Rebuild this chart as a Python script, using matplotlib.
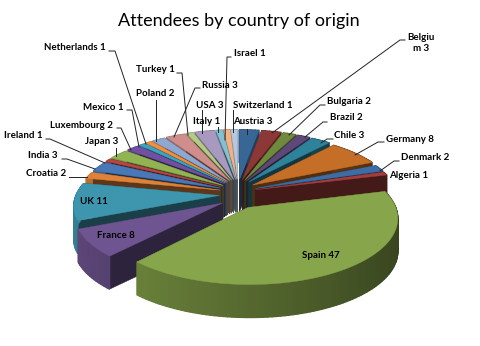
import numpy as np
import matplotlib
matplotlib.use("Agg")
import matplotlib.pyplot as plt

# values clockwise from the top of the pie
countries = ['Austria', 'Belgium', 'Bulgaria', 'Brazil', 'Chile', 'Germany', 'Denmark', 'Algeria',
             'Spain', 'France', 'UK', 'Croatia', 'India', 'Ireland', 'Japan', 'Luxembourg',
             'Mexico', 'Netherlands', 'Poland', 'Russia', 'Turkey', 'USA', 'Italy', 'Israel', 'Switzerland']
attendees = [3, 3, 2, 2, 3, 8, 2, 1, 47, 8, 11, 2, 3, 1, 3, 2, 1, 1, 2, 3, 1, 3, 1, 1, 1]
colors = ['#386796', '#8C3836', '#6F8A3C', '#5E4878', '#2E8299', '#C46E27', '#3D6DA5', '#A33E3C',
          '#87A54A', '#6E5490', '#3E95AE', '#DD8238', '#4878B5', '#B24744', '#92B351', '#7050A0',
          '#3BA4BF', '#F28E3C', '#8FA8D1', '#CF8E8C', '#B4CB84', '#A899C1', '#85C0D2', '#F4B183', '#B4C6E0']

# label layout: left edge (or centre), middle y, leader line points in pixels
layout = {
    'Austria': (233, 122, [(247, 129), (247, 134)]),
    'Belgium': (421, 43, [(405, 40), (400, 40), (272, 133)]),
    'Bulgaria': (327, 102, [(325, 105), (320, 105), (289, 135)]),
    'Brazil': (330, 118, [(327, 122), (323, 122), (305, 137)]),
    'Chile': (334, 135, [(333, 139), (327, 139), (321, 143)]),
    'Germany': (386, 139, [(384, 142), (378, 142), (355, 155)]),
    'Denmark': (401, 158, [(399, 161), (394, 161), (380, 171)]),
    'Algeria': (389, 176, []),
    'Spain': (302, 256, []),
    'France': (97, 236, []),
    'UK': (80, 202, []),
    'Croatia': (26, 174, [(69, 177), (87, 177)]),
    'India': (28, 156, [(62, 159), (67, 159), (95, 169)]),
    'Ireland': (4, 136, [(46, 139), (50, 139), (105, 163)]),
    'Japan': (85, 142, [(116, 148), (116, 156)]),
    'Luxembourg': (50, 125, [(117, 128), (121, 128), (131, 150)]),
    'Mexico': (83, 107, [(127, 110), (132, 110), (139, 147)]),
    'Netherlands': (44, 47, [(109, 51), (115, 51), (146, 144)]),
    'Poland': (136, 94, [(156, 100), (156, 141)]),
    'Russia': (202, 85, [(200, 88), (195, 88), (174, 137)]),
    'Turkey': (136, 70, [(177, 73), (182, 73), (188, 135)]),
    'USA': (196, 105, [(202, 110), (202, 133)]),
    'Italy': (193, 122, [(218, 127), (218, 132)]),
    'Israel': (234, 53, [(231, 57), (227, 57), (225, 140)]),
    'Switzerland': (233, 105, [(233, 110), (233, 132)]),
}

CX, CY = 238, 194
RX, RY = 143, 61
PERSP = 0.15
EXPLODE_X, EXPLODE_Y = 0.13, 0.25
DEPTH = 33


def project(x, y):
    s = 1 / (1 + PERSP * y)
    return CX + RX * x * s, CY - RY * y * s


def shade(color, f):
    return tuple(c * f for c in matplotlib.colors.to_rgb(color))


fig = plt.figure(figsize=(4.8, 3.46), dpi=100)
ax = fig.add_axes([0, 0, 1, 1])
ax.set_xlim(0, 480)
ax.set_ylim(346, 0)
ax.axis('off')

total = sum(attendees)
edges = np.cumsum([0] + attendees) / total * 2 * np.pi
slices = []
for i in range(len(attendees)):
    slices.append((edges[i], edges[i + 1], colors[i]))

# back slices first so the front ones cover them
for a0, a1, col in sorted(slices, key=lambda s: -np.cos((s[0] + s[1]) / 2)):
    mid = (a0 + a1) / 2
    ox, oy = EXPLODE_X * np.sin(mid), EXPLODE_Y * np.cos(mid)
    angles = np.linspace(a0, a1, max(3, int((a1 - a0) * 40)))
    rim = [project(ox + np.sin(a), oy + np.cos(a)) for a in angles]
    apex = project(ox, oy)

    for p, q in [(apex, rim[0]), (apex, rim[-1])]:
        ax.fill([p[0], q[0], q[0], p[0]], [p[1], q[1], q[1] + DEPTH, p[1] + DEPTH],
                color=shade(col, 0.42), lw=0.3)
    for j in range(len(rim) - 1):
        p, q = rim[j], rim[j + 1]
        f = 0.63 - 0.22 * np.sin((angles[j] + angles[j + 1]) / 2)
        ax.fill([p[0], q[0], q[0], p[0]], [p[1], q[1], q[1] + DEPTH, p[1] + DEPTH],
                color=shade(col, f), lw=1.0)
    top = [apex] + rim
    ax.fill([t[0] for t in top], [t[1] for t in top], color=col, lw=0.3)

font = 'Lato'
ax.text(239, 21, 'Attendees by country of origin', ha='center', va='center',
        fontsize=13, family=font, color='black')

for name, value in zip(countries, attendees):
    x, y, leader = layout[name]
    if name == 'Belgium':
        ax.text(x, y, 'Belgiu\nm 3', ha='center', va='center', fontsize=7, family=font,
                fontweight='bold', linespacing=1.35)
    else:
        ax.text(x, y, f'{name} {value}', ha='left', va='center', fontsize=7, family=font,
                fontweight='bold')
    if leader:
        ax.plot([p[0] for p in leader], [p[1] for p in leader], color='#222222', lw=0.7)

fig.savefig('out.png', dpi=100)
